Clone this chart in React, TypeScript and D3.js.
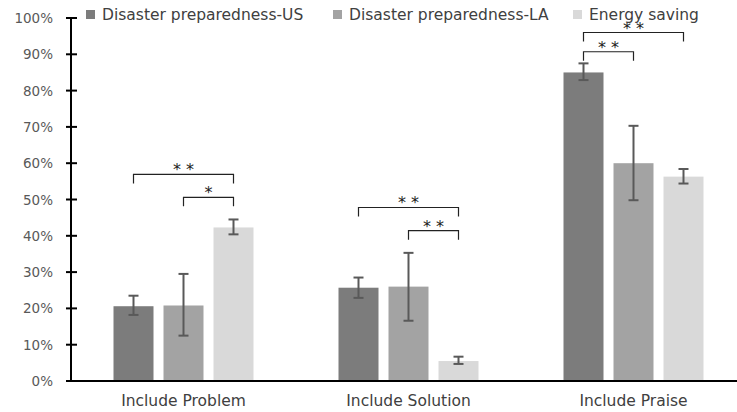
import { useEffect, useRef } from 'react';
import * as d3 from 'd3';

const categories = ['Include Problem', 'Include Solution', 'Include Praise'];
const seriesNames = ['Disaster preparedness-US', 'Disaster preparedness-LA', 'Energy saving'];
const seriesColors = ['#7c7c7c', '#a3a3a3', '#d9d9d9'];

// values per series, one entry per category (fractions)
const usValues = [0.206, 0.257, 0.85];
const laValues = [0.208, 0.26, 0.6];
const energyValues = [0.423, 0.055, 0.563];

// error bars [low, high]
const usErrors = [[0.182, 0.235], [0.229, 0.285], [0.829, 0.875]];
const laErrors = [[0.125, 0.295], [0.166, 0.353], [0.498, 0.703]];
const energyErrors = [[0.404, 0.445], [0.047, 0.067], [0.544, 0.584]];

const yTicks = [0, 0.1, 0.2, 0.3, 0.4, 0.5, 0.6, 0.7, 0.8, 0.9, 1];

// significance brackets: category, from series, to series, height, label
const brackets = [
  { cat: 0, from: 0, to: 2, y: 0.569, label: '* *' },
  { cat: 0, from: 1, to: 2, y: 0.506, label: '*' },
  { cat: 1, from: 0, to: 2, y: 0.478, label: '* *' },
  { cat: 1, from: 1, to: 2, y: 0.414, label: '* *' },
  { cat: 2, from: 0, to: 2, y: 0.96, label: '* *' },
  { cat: 2, from: 0, to: 1, y: 0.907, label: '* *' },
];

const W = 737;
const H = 412;
const FONT = 'DejaVu Sans, Verdana, sans-serif';

export default function App() {
  const svgRef = useRef<SVGSVGElement>(null);

  useEffect(() => {
    if (!svgRef.current) return;
    const svg = d3.select(svgRef.current);
    svg.selectAll('*').remove();

    const x0 = 71;
    const y = d3.scaleLinear().domain([0, 1]).range([381, 18]);
    const x = d3.scaleBand().domain(categories).range([x0, x0 + 675]);
    const xs = d3.scaleBand().domain(seriesNames).range([0, 140]).paddingInner(0.2);

    const allValues = [usValues, laValues, energyValues];
    const allErrors = [usErrors, laErrors, energyErrors];

    const barX = (c: number, s: number) =>
      (x(categories[c]) as number) + x.bandwidth() / 2 - 70 + (xs(seriesNames[s]) as number);
    const barCx = (c: number, s: number) => barX(c, s) + xs.bandwidth() / 2;

    // bars
    seriesNames.forEach((name, s) => {
      svg.append('g')
        .selectAll('rect')
        .data(allValues[s])
        .join('rect')
        .attr('x', (_, c) => barX(c, s))
        .attr('y', d => y(d))
        .attr('width', xs.bandwidth())
        .attr('height', d => y(0) - y(d))
        .attr('fill', seriesColors[s]);
    });

    // error bars
    seriesNames.forEach((name, s) => {
      allErrors[s].forEach(([lo, hi], c) => {
        const cx = barCx(c, s);
        const g = svg.append('g').attr('stroke', '#595959').attr('stroke-width', 2);
        g.append('line').attr('x1', cx).attr('x2', cx).attr('y1', y(lo)).attr('y2', y(hi));
        g.append('line').attr('x1', cx - 5).attr('x2', cx + 5).attr('y1', y(lo)).attr('y2', y(lo));
        g.append('line').attr('x1', cx - 5).attr('x2', cx + 5).attr('y1', y(hi)).attr('y2', y(hi));
      });
    });

    // y axis
    const axis = svg.append('g');
    axis.append('line')
      .attr('x1', x0).attr('x2', x0)
      .attr('y1', y(1)).attr('y2', y(0))
      .attr('stroke', '#000').attr('stroke-width', 2);
    yTicks.forEach(t => {
      axis.append('line')
        .attr('x1', x0 - 5).attr('x2', x0 + 6)
        .attr('y1', y(t)).attr('y2', y(t))
        .attr('stroke', '#000').attr('stroke-width', 2);
      axis.append('text')
        .attr('x', 53)
        .attr('y', y(t))
        .attr('text-anchor', 'end')
        .attr('dominant-baseline', 'central')
        .attr('font-family', FONT)
        .attr('font-size', 13.5)
        .attr('fill', '#595959')
        .text(d3.format('.0%')(t));
    });

    // x axis
    svg.append('line')
      .attr('x1', x0 - 5).attr('x2', W)
      .attr('y1', y(0)).attr('y2', y(0))
      .attr('stroke', '#000').attr('stroke-width', 2);
    categories.forEach(c => {
      svg.append('text')
        .attr('x', (x(c) as number) + x.bandwidth() / 2)
        .attr('y', 401)
        .attr('text-anchor', 'middle')
        .attr('dominant-baseline', 'central')
        .attr('font-family', FONT)
        .attr('font-size', 15.5)
        .attr('fill', '#404040')
        .text(c);
    });

    // significance brackets
    brackets.forEach(b => {
      const x1 = barCx(b.cat, b.from);
      const x2 = barCx(b.cat, b.to);
      const yy = y(b.y);
      svg.append('path')
        .attr('d', `M${x1},${yy + 9}V${yy}H${x2}V${yy + 9}`)
        .attr('fill', 'none')
        .attr('stroke', '#222')
        .attr('stroke-width', 1.2);
      svg.append('text')
        .attr('x', (x1 + x2) / 2)
        .attr('y', yy + 1)
        .attr('text-anchor', 'middle')
        .attr('font-family', FONT)
        .attr('font-size', 16)
        .attr('fill', '#222')
        .text(b.label);
    });

    // legend
    const legendX = [86, 333, 573];
    seriesNames.forEach((name, s) => {
      svg.append('rect')
        .attr('x', legendX[s]).attr('y', 10)
        .attr('width', 9).attr('height', 9)
        .attr('fill', seriesColors[s]);
      svg.append('text')
        .attr('x', legendX[s] + 16)
        .attr('y', 14.5)
        .attr('dominant-baseline', 'central')
        .attr('font-family', FONT)
        .attr('font-size', 15.5)
        .attr('fill', '#404040')
        .text(name);
    });
  }, []);

  return (
    <svg
      ref={svgRef}
      width={W}
      height={H}
      style={{ position: 'absolute', left: 0, top: 0, background: '#fff' }}
    />
  );
}
